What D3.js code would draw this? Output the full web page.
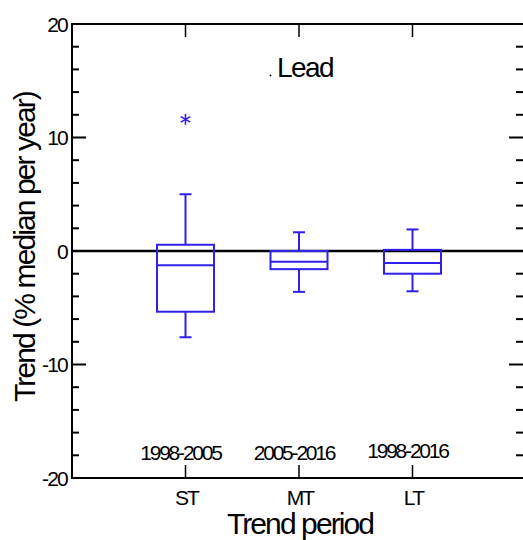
<!DOCTYPE html>
<html><head><meta charset="utf-8">
<script src="https://cdn.jsdelivr.net/npm/d3@7"></script>
<style>
body{margin:0;background:#fff;}
text{font-family:"Liberation Sans",Arial,sans-serif;fill:#000;}
</style></head>
<body><svg id="c" width="523" height="540"></svg>
<script>
const categories = ["ST","MT","LT"];
const periods = ["1998-2005","2005-2016","1998-2016"];
const whiskerLow = [-7.6,-3.6,-3.55];
const q1 = [-5.35,-1.6,-2.0];
const median = [-1.25,-0.95,-1.05];
const q3 = [0.55,0.0,0.1];
const whiskerHigh = [5.0,1.65,1.9];
const outliers = [[0,11.6]];
const yMajor = [-20,-10,0,10,20];
const title = "Lead";

const svg = d3.select("#c");
const L=72,R=526,T=24,B=478;
const x = d3.scaleLinear().domain([0,4]).range([L,R]);
const y = d3.scaleLinear().domain([-20,20]).range([B,T]);
const blue = "#3020e8";

// frame lines
svg.append("line").attr("x1",L).attr("x2",523).attr("y1",T).attr("y2",T).attr("stroke","#000").attr("stroke-width",2);
svg.append("line").attr("x1",L).attr("x2",523).attr("y1",B).attr("y2",B).attr("stroke","#000").attr("stroke-width",2);
svg.append("line").attr("x1",L).attr("x2",L).attr("y1",T-1).attr("y2",B+1).attr("stroke","#000").attr("stroke-width",2);

// y ticks
const yMinor = d3.range(-20,20.1,2);
yMinor.forEach(v=>{
  const major = yMajor.includes(v);
  const len = major?14:7;
  svg.append("line").attr("x1",L).attr("x2",L+len).attr("y1",y(v)).attr("y2",y(v)).attr("stroke","#000").attr("stroke-width",2);
  svg.append("line").attr("x1",523).attr("x2",523-len).attr("y1",y(v)).attr("y2",y(v)).attr("stroke","#000").attr("stroke-width",2);
});
yMajor.forEach(v=>{
  svg.append("text").attr("x",L-5).attr("y",y(v)+7.5).attr("text-anchor","end")
    .attr("font-size",21).attr("letter-spacing",-1.8).text(v);
});

// x ticks
const periodY=[460,460,458];
categories.forEach((c,i)=>{
  const cx = x(i+1);
  svg.append("line").attr("x1",cx).attr("x2",cx).attr("y1",B).attr("y2",B-13).attr("stroke","#000").attr("stroke-width",1.5);
  svg.append("line").attr("x1",cx).attr("x2",cx).attr("y1",T).attr("y2",T+13).attr("stroke","#000").attr("stroke-width",1.5);
  svg.append("text").attr("x",cx+1).attr("y",505).attr("text-anchor","middle").attr("font-size",21).attr("letter-spacing",-1.8).text(c);
  svg.append("text").attr("x",cx-5).attr("y",periodY[i]).attr("text-anchor","middle").attr("font-size",21).attr("letter-spacing",-2.2).text(periods[i]);
});

// zero line
svg.append("line").attr("x1",L).attr("x2",523).attr("y1",y(0)).attr("y2",y(0)).attr("stroke","#000").attr("stroke-width",2.5);

// boxes
const bw=57, cw=12;
categories.forEach((c,i)=>{
  const cx = x(i+1);
  const g = svg.append("g").attr("stroke",blue).attr("stroke-width",2).attr("fill","none");
  g.append("line").attr("x1",cx).attr("x2",cx).attr("y1",y(q3[i])).attr("y2",y(whiskerHigh[i]));
  g.append("line").attr("x1",cx).attr("x2",cx).attr("y1",y(q1[i])).attr("y2",y(whiskerLow[i]));
  g.append("line").attr("x1",cx-cw/2).attr("x2",cx+cw/2).attr("y1",y(whiskerHigh[i])).attr("y2",y(whiskerHigh[i]));
  g.append("line").attr("x1",cx-cw/2).attr("x2",cx+cw/2).attr("y1",y(whiskerLow[i])).attr("y2",y(whiskerLow[i]));
  g.append("rect").attr("x",cx-bw/2).attr("width",bw).attr("y",y(q3[i])).attr("height",y(q1[i])-y(q3[i]));
  g.append("line").attr("x1",cx-bw/2).attr("x2",cx+bw/2).attr("y1",y(median[i])).attr("y2",y(median[i]));
});
// outliers (asterisk)
outliers.forEach(([i,v])=>{
  const cx=x(i+1), cy=y(v);
  const g=svg.append("g").attr("stroke",blue).attr("stroke-width",1.6);
  [90,30,150].forEach(a=>{
    const r=5.5, rad=a*Math.PI/180;
    g.append("line").attr("x1",cx-r*Math.cos(rad)).attr("x2",cx+r*Math.cos(rad))
      .attr("y1",cy-r*Math.sin(rad)).attr("y2",cy+r*Math.sin(rad));
  });
});

// title
svg.append("text").attr("x",277).attr("y",77).attr("font-size",28).attr("letter-spacing",-1.6).text(title);
svg.append("circle").attr("cx",270.5).attr("cy",75.5).attr("r",0.9).attr("fill","#000");

// axis titles
svg.append("text").attr("transform","translate(35,247) rotate(-90)").attr("text-anchor","middle")
  .attr("font-size",30).attr("letter-spacing",-1.9).text("Trend (% median per year)");
svg.append("text").attr("x",300).attr("y",534).attr("text-anchor","middle")
  .attr("font-size",30).attr("letter-spacing",-1.9).text("Trend period");
</script></body></html>
